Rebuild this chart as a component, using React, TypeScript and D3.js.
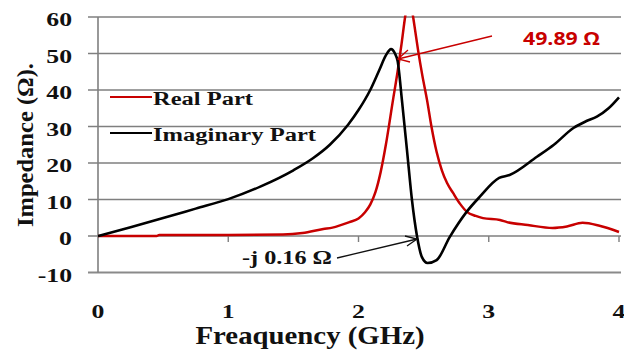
import React from "react";
import * as d3 from "d3";

const realFreq = [0, 0.45, 0.47, 1.0, 1.42, 1.57, 1.73, 1.8, 1.93, 2.0, 2.05, 2.09, 2.13, 2.17, 2.21, 2.265, 2.3, 2.33, 2.36, 2.385, 2.41, 2.43, 2.457, 2.49, 2.526, 2.56, 2.6, 2.64, 2.68, 2.726, 2.78, 2.833, 2.9, 2.956, 3.086, 3.14, 3.3, 3.49, 3.6, 3.72, 3.85, 4.0];
const realVals = [0, 0, 0.3, 0.3, 0.4, 0.8, 1.9, 2.3, 3.8, 4.8, 6.5, 8.6, 12, 17.5, 25, 37.3, 45, 52.5, 60.5, 65, 62, 57.5, 51, 44, 37.3, 30, 23, 18, 14.5, 11.8, 8.8, 6.6, 5.5, 4.9, 4.4, 3.8, 3.0, 2.2, 2.6, 3.6, 2.8, 1.1];

const imagFreq = [0, 0.25, 0.5, 0.75, 1.0, 1.25, 1.5, 1.65, 1.78, 1.92, 2.0, 2.09, 2.16, 2.21, 2.25, 2.28, 2.3, 2.334, 2.372, 2.41, 2.449, 2.487, 2.53, 2.6, 2.7, 2.83, 2.93, 3.08, 3.16, 3.37, 3.5, 3.65, 3.75, 3.83, 3.92, 4.0];
const imagVals = [0, 2.4, 4.9, 7.5, 10.1, 13.6, 18, 21.3, 25, 30.5, 34.5, 40, 45.5, 49.5, 51.2, 50, 48, 37, 23.6, 10, 0, -5.8, -7.4, -6.6, -0.3, 6.6, 10.7, 15.9, 16.7, 21.7, 25, 29.6, 31.5, 32.7, 35, 38];

const yTicks = [-10, 0, 10, 20, 30, 40, 50, 60];
const xTicks = [0, 1, 2, 3, 4];
const legendLabels = ["Real Part", "Imaginary Part"];
const xTitle = "Freaquency (GHz)";
const yTitle = "Impedance (Ω).";
const peakNote = "49.89 Ω";
const dipNote = "-j 0.16 Ω";

const serifStyle = { fontFamily: '"Liberation Serif"', fontWeight: 700 } as const;
const sansStyle = { fontFamily: '"Open Sans"', fontWeight: 700 } as const;

export default function App() {
  const x = d3.scaleLinear().domain([0, 4]).range([98, 619]);
  const y = d3.scaleLinear().domain([-10, 60]).range([272.5, 17]);

  const line = d3
    .line<[number, number]>()
    .x((d) => x(d[0]))
    .y((d) => y(d[1]))
    .curve(d3.curveMonotoneX);

  const realPath = line(realFreq.map((f, i) => [f, realVals[i]]) as [number, number][]) || "";
  const imagPath = line(imagFreq.map((f, i) => [f, imagVals[i]]) as [number, number][]) || "";

  const red = "#c80000";
  const ink = "#111";

  return (
    <svg
      width={624}
      height={352}
      style={{ position: "absolute", left: 0, top: 0, background: "#fff" }}
    >
      <defs>
        <clipPath id="plot">
          <rect x={x(0)} y={y(60) - 1.5} width={x(4) - x(0) + 4} height={y(-10) - y(60) + 2} />
        </clipPath>
      </defs>
      {yTicks.map((t) => (
        <line
          key={t}
          x1={88}
          x2={x(4) + 2}
          y1={y(t)}
          y2={y(t)}
          stroke={t === -10 ? "#8a8a8a" : "#7f7f7f"}
          strokeWidth={t === -10 ? 2 : 1.4}
        />
      ))}
      <line x1={x(0)} x2={x(0)} y1={y(60)} y2={y(-10)} stroke="#7f7f7f" strokeWidth={1.6} />
      {xTicks.slice(1).map((t) => (
        <line key={t} x1={x(t)} x2={x(t)} y1={y(0)} y2={y(0) + 6} stroke="#7f7f7f" strokeWidth={1.4} />
      ))}
      {yTicks.map((t) => (
        <g key={t} transform={`translate(72,${y(t) + 9}) scale(1.32,1)`}>
          <text x={0} y={0} textAnchor="end" style={serifStyle} fontSize={19.5} fill={ink}>
            {t < 0 ? "-" + Math.abs(t) : t}
          </text>
        </g>
      ))}
      {xTicks.map((t) => (
        <g key={t} transform={`translate(${x(t)},317.5) scale(1.32,1)`}>
          <text x={0} y={0} textAnchor="middle" style={serifStyle} fontSize={19.5} fill={ink}>
            {t}
          </text>
        </g>
      ))}
      <text
        x={310}
        y={344}
        textAnchor="middle"
        style={serifStyle}
        fontSize={24.5}
        fill={ink}
        textLength={229}
        lengthAdjust="spacingAndGlyphs"
      >
        {xTitle}
      </text>
      <text
        transform="translate(33,145) rotate(-90)"
        textAnchor="middle"
        style={serifStyle}
        fontSize={23.5}
        fill={ink}
        textLength={164}
        lengthAdjust="spacingAndGlyphs"
      >
        {yTitle}
      </text>
      <g clipPath="url(#plot)">
        <path d={realPath} fill="none" stroke={red} strokeWidth={2.5} strokeLinejoin="round" />
        <path d={imagPath} fill="none" stroke="#000" strokeWidth={2.6} strokeLinejoin="round" />
      </g>
      <line x1={110} x2={152} y1={97} y2={97} stroke={red} strokeWidth={2} />
      <text
        x={153}
        y={105}
        style={serifStyle}
        fontSize={18.5}
        fill={ink}
        textLength={100}
        lengthAdjust="spacingAndGlyphs"
      >
        {legendLabels[0]}
      </text>
      <line x1={110} x2={152} y1={133} y2={133} stroke="#000" strokeWidth={2} />
      <text
        x={153}
        y={141}
        style={serifStyle}
        fontSize={18.5}
        fill={ink}
        textLength={163}
        lengthAdjust="spacingAndGlyphs"
      >
        {legendLabels[1]}
      </text>
      <text
        x={523}
        y={45}
        style={sansStyle}
        fontSize={18}
        fill={red}
        textLength={77}
        lengthAdjust="spacingAndGlyphs"
      >
        {peakNote}
      </text>
      <line x1={492} y1={36} x2={398} y2={59} stroke={red} strokeWidth={1.3} />
      <polyline points="408,50 398,59 410,62" fill="none" stroke={red} strokeWidth={1.3} />
      <text
        x={242}
        y={264}
        style={serifStyle}
        fontSize={19}
        fill={ink}
        textLength={90}
        lengthAdjust="spacingAndGlyphs"
      >
        {dipNote}
      </text>
      <line x1={337} y1={258} x2={417} y2={239} stroke={ink} strokeWidth={1.3} />
      <polyline points="405,236 417,239 407,246" fill="none" stroke={ink} strokeWidth={1.3} />
    </svg>
  );
}
